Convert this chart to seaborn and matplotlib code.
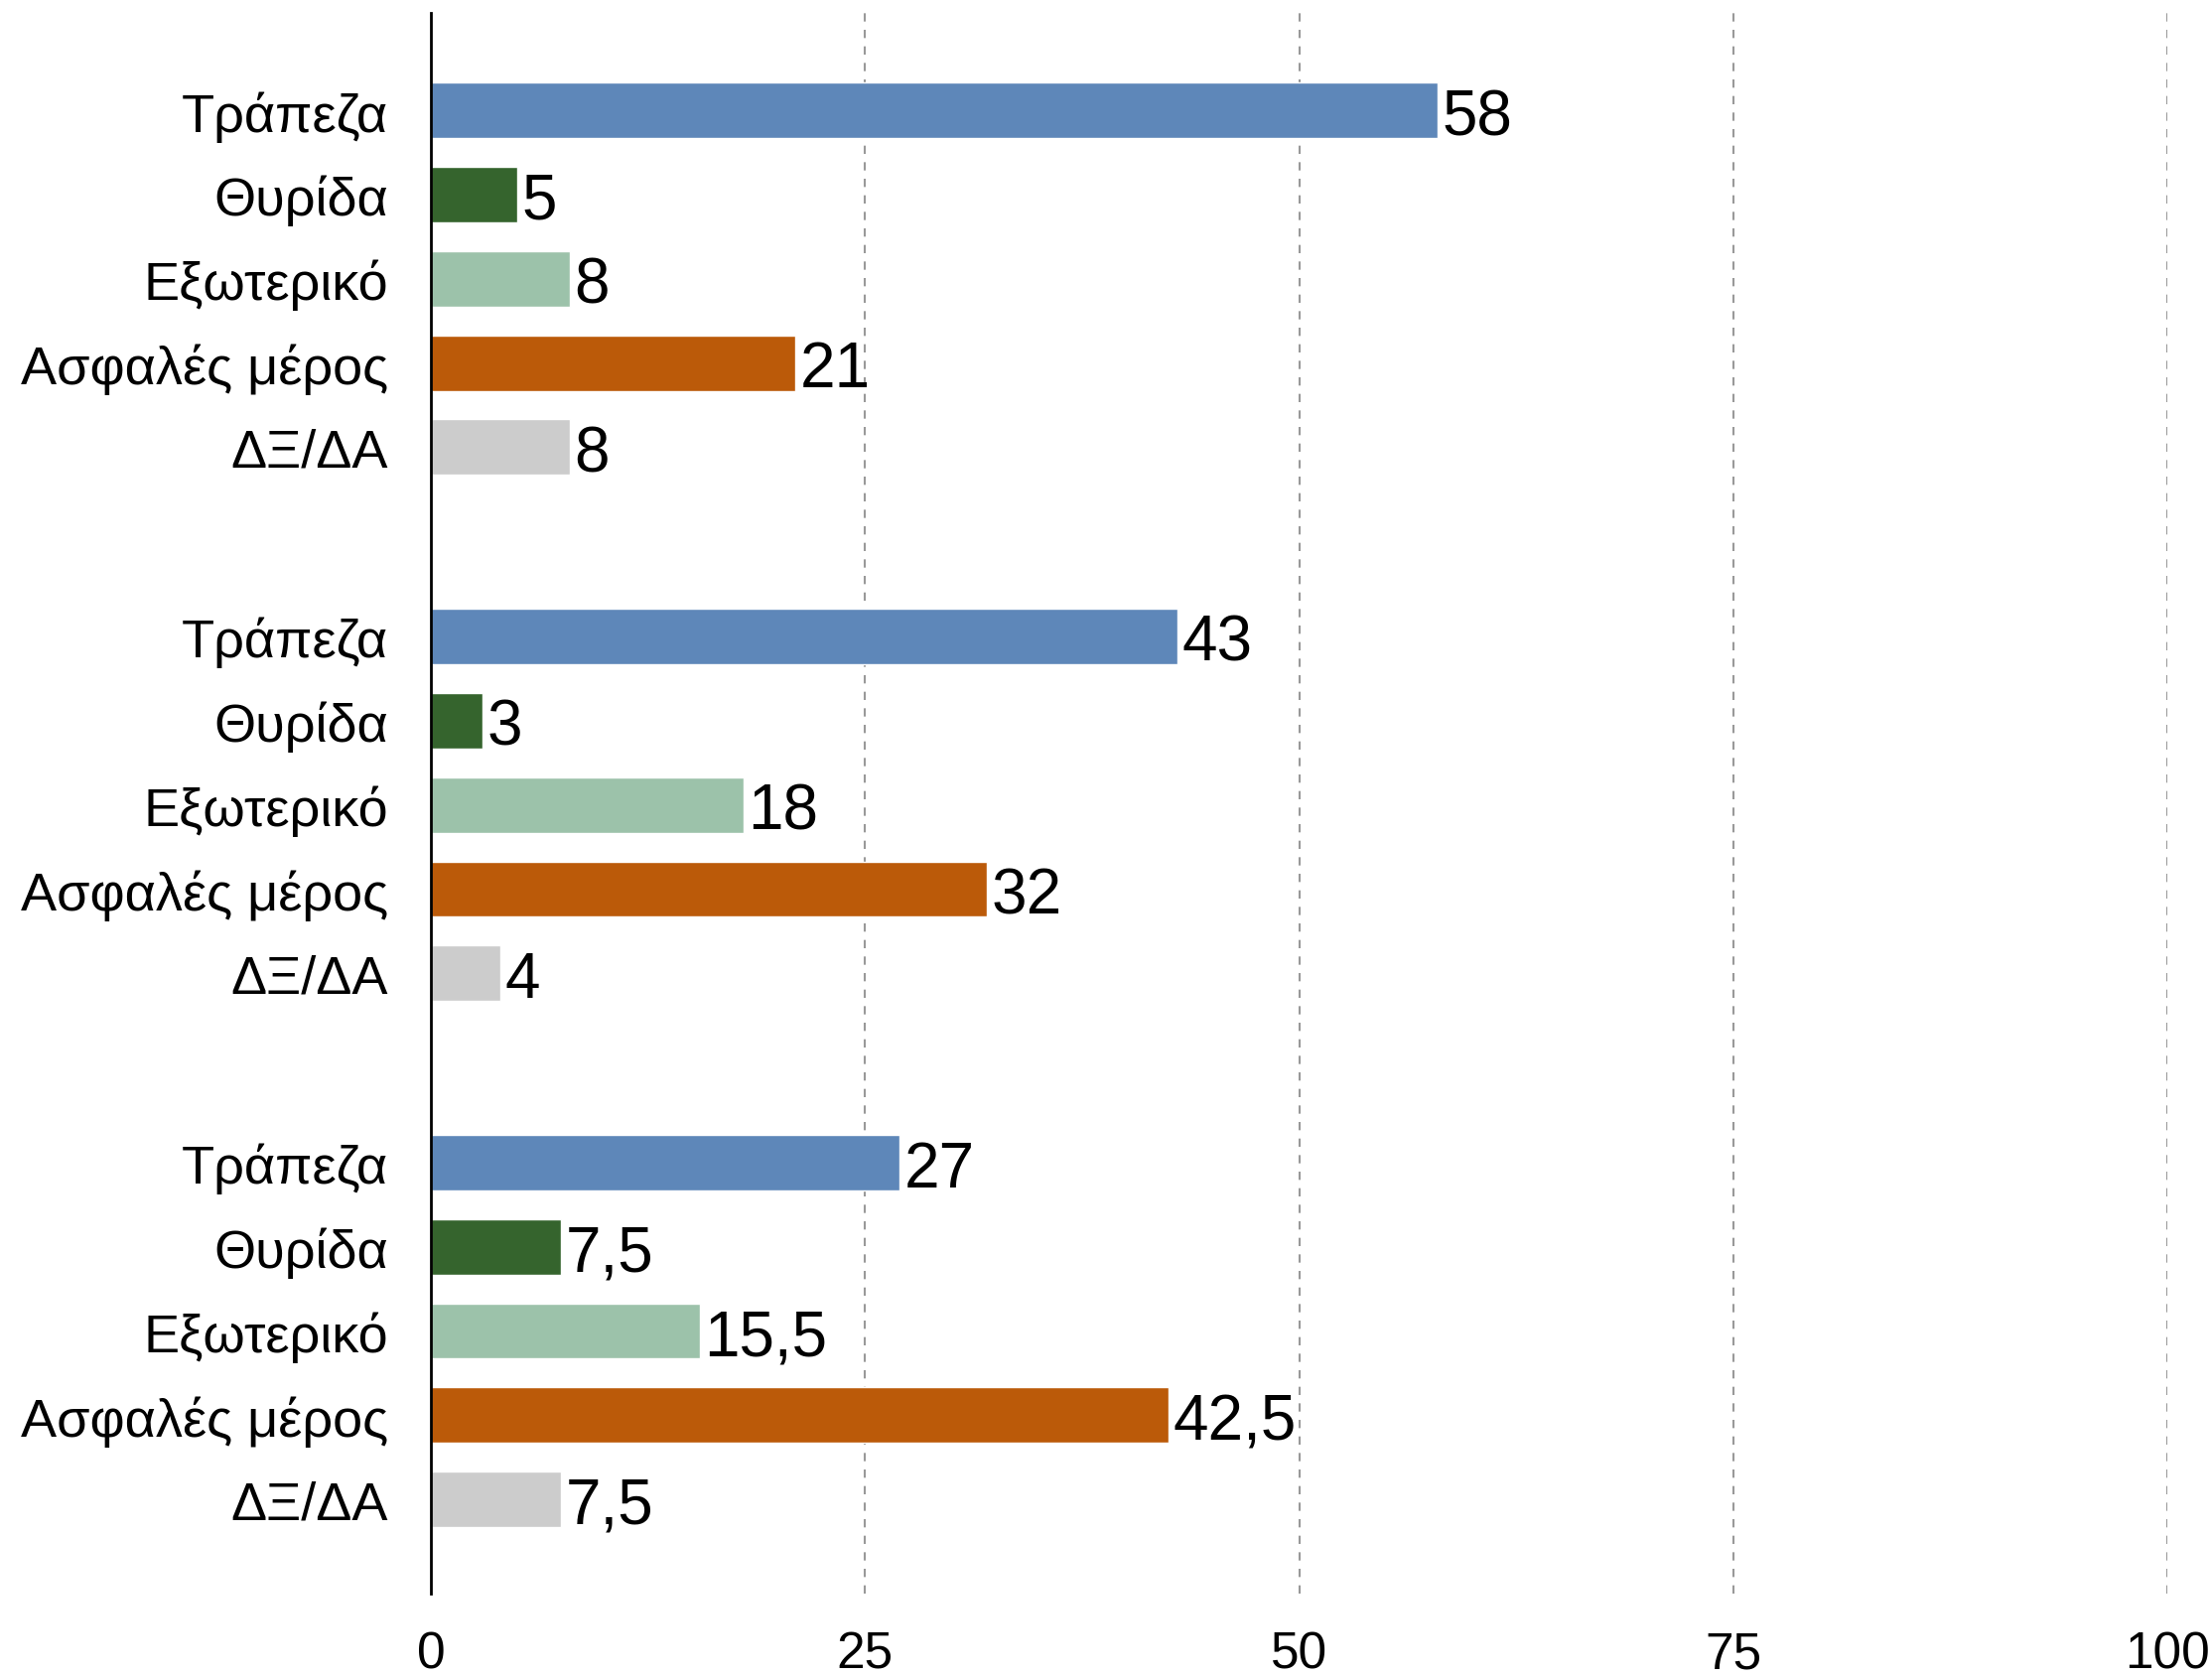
import matplotlib
matplotlib.use("Agg")
import matplotlib.pyplot as plt
import seaborn as sns
import pandas as pd

categories = ["Τράπεζα", "Θυρίδα", "Εξωτερικό", "Ασφαλές μέρος", "ΔΞ/ΔΑ"]
group1 = [58, 5, 8, 21, 8]
group2 = [43, 3, 18, 32, 4]
group3 = [27, 7.5, 15.5, 42.5, 7.5]
colors = ["#5E87B9", "#35642D", "#9CC2AA", "#BB5A09", "#CCCCCC"]
x_ticks = [0, 25, 50, 75, 100]

groups = [group1, group2, group3]
group_offsets = [0, 6.25, 12.5]

rows = []
for off, vals in zip(group_offsets, groups):
    for i, (c, v) in enumerate(zip(categories, vals)):
        rows.append({"pos": off + i, "cat": c, "value": v})
df = pd.DataFrame(rows)

sns.set_theme(style="white")
plt.rcParams["font.family"] = ["Liberation Sans", "DejaVu Sans"]
plt.rcParams["text.color"] = "black"
plt.rcParams["xtick.color"] = "black"
plt.rcParams["ytick.color"] = "black"

fig = plt.figure(figsize=(22.28, 16.90), dpi=100)
ax = fig.add_axes([0.1948, 0.0497, 0.9798 - 0.1948, 0.9917 - 0.0497])

sns.barplot(data=df, x="value", y="pos", hue="cat", orient="h",
            native_scale=True, dodge=False, palette=colors,
            hue_order=categories, width=0.66, legend=False,
            saturation=1, ax=ax, errorbar=None)

for _, r in df.iterrows():
    v = r["value"]
    txt = (f"{v:g}").replace(".", ",")
    ax.text(v + 0.25, r["pos"] + 0.08, txt, ha="left", va="center",
            fontsize=46, color="black")

ax.set_xlim(0, 100)
ax.set_ylim(12.5 + 4 + 1.12, -1.16)
ax.set_xticks(x_ticks)
ax.set_xticklabels([str(t) for t in x_ticks], fontsize=37)
ax.set_yticks(df["pos"])
ax.set_yticklabels(df["cat"], fontsize=39)
ax.tick_params(axis="y", length=0, pad=31)
ax.tick_params(axis="x", length=0, pad=26)
ax.set_xlabel("")
ax.set_ylabel("")

for t in [25, 50, 75, 100]:
    ax.axvline(t, color="#999999", linestyle=(0, (4, 4)), linewidth=1.5, zorder=0)

for s in ["top", "right", "bottom"]:
    ax.spines[s].set_visible(False)
ax.spines["left"].set_color("black")
ax.spines["left"].set_linewidth(2)
ax.grid(False)

fig.savefig("out.png", dpi=100)
